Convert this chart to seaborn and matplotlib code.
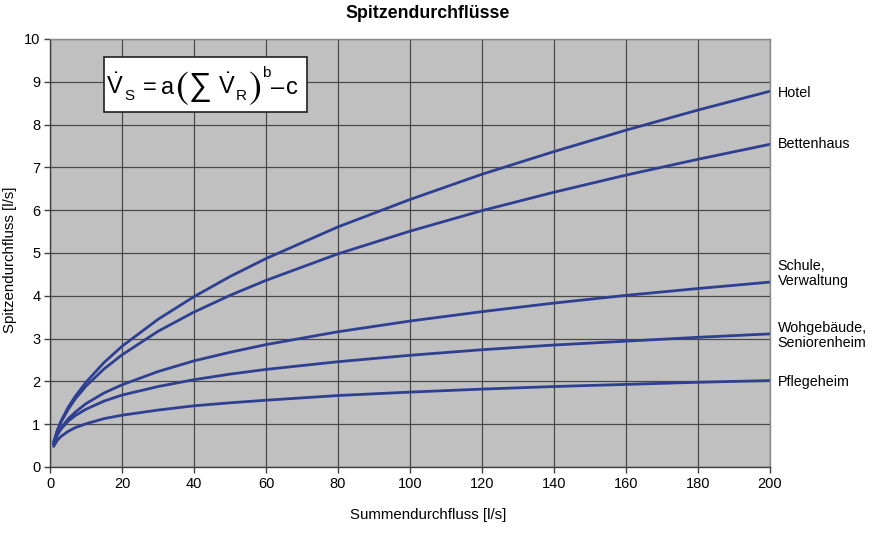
import matplotlib
matplotlib.use("Agg")
import matplotlib.pyplot as plt
import pandas as pd
import seaborn as sns
from matplotlib.patches import Rectangle

# Summendurchfluss [l/s]
flow = [1, 2, 3, 5, 7, 10, 15, 20, 30, 40, 50, 60, 80, 100, 120, 140, 160, 180, 200]

# Spitzendurchfluss [l/s]
hotel = [0.57, 0.85, 1.06, 1.39, 1.65, 1.98, 2.44, 2.82, 3.45, 3.98, 4.45, 4.87,
         5.61, 6.25, 6.84, 7.37, 7.87, 8.34, 8.78]
bettenhaus = [0.57, 0.84, 1.04, 1.34, 1.59, 1.89, 2.29, 2.62, 3.17, 3.62, 4.01, 4.36,
              4.98, 5.51, 5.99, 6.42, 6.82, 7.19, 7.54]
schule = [0.53, 0.75, 0.90, 1.12, 1.28, 1.48, 1.73, 1.92, 2.23, 2.48, 2.68, 2.86,
          3.16, 3.41, 3.63, 3.83, 4.01, 4.17, 4.32]
wohngebaeude = [0.54, 0.75, 0.88, 1.07, 1.20, 1.35, 1.54, 1.68, 1.88, 2.04, 2.17, 2.28,
                2.46, 2.61, 2.74, 2.85, 2.94, 3.03, 3.11]
pflegeheim = [0.48, 0.62, 0.71, 0.83, 0.92, 1.01, 1.13, 1.21, 1.33, 1.43, 1.50, 1.56,
              1.67, 1.75, 1.82, 1.88, 1.93, 1.98, 2.02]

series = {
    "Hotel": hotel,
    "Bettenhaus": bettenhaus,
    "Schule,\nVerwaltung": schule,
    "Wohgebäude,\nSeniorenheim": wohngebaeude,
    "Pflegeheim": pflegeheim,
}
# vertical nudge of the right-hand labels (points)
label_offset = {"Hotel": -1, "Bettenhaus": 0, "Schule,\nVerwaltung": 6,
                "Wohgebäude,\nSeniorenheim": -1, "Pflegeheim": -1}

rows = []
for name, values in series.items():
    for x, y in zip(flow, values):
        rows.append({"flow": x, "peak": y, "kind": name})
df = pd.DataFrame(rows)

sns.set_theme(style="white")
plt.rcParams["font.family"] = ["Liberation Sans", "DejaVu Sans"]
plt.rcParams["mathtext.fontset"] = "custom"
plt.rcParams["mathtext.rm"] = "Liberation Sans"
plt.rcParams["mathtext.it"] = "Liberation Sans"
plt.rcParams["text.color"] = "black"
plt.rcParams["xtick.color"] = "black"
plt.rcParams["ytick.color"] = "black"

W, H = 872, 539
fig = plt.figure(figsize=(W / 100, H / 100), dpi=100)
ax = fig.add_axes([50 / W, 1 - 467 / H, 720 / W, 428 / H])
ax.set_facecolor("#c0c0c0")

line_color = "#2f3f91"
sns.lineplot(data=df, x="flow", y="peak", hue="kind", palette=[line_color] * 5,
             linewidth=2.0, legend=False, ax=ax)

ax.set_xlim(0, 200)
ax.set_ylim(0, 10)
ax.set_xticks(range(0, 201, 20))
ax.set_yticks(range(0, 11))
ax.grid(True, color="#4a4a4a", linewidth=0.9)
ax.set_axisbelow(True)
for side in ["top", "right"]:
    ax.spines[side].set_color("#8a8a8a")
for side in ["left", "bottom"]:
    ax.spines[side].set_color("#404040")
for sp in ax.spines.values():
    sp.set_linewidth(1.0)
ax.tick_params(axis="both", direction="out", length=4, width=1, color="#404040",
               labelsize=10.5, pad=3, bottom=True, left=True)
ax.set_xlabel("")
ax.set_ylabel("")


def px(x, y):
    # pixel position -> figure fraction
    return x / W, 1 - y / H


fig.text(*px(428, 515), "Summendurchfluss [l/s]", ha="center", va="center", fontsize=10.8)
fig.text(*px(10, 260), "Spitzendurchfluss [l/s]", ha="center", va="center",
         fontsize=10.8, rotation=90)
fig.text(*px(428, 14), "Spitzendurchflüsse", ha="center", va="center",
         fontsize=12.8, fontweight="bold")

for name, values in series.items():
    ax.annotate(name, xy=(200, values[-1]), xytext=(5.5, label_offset[name]),
                textcoords="offset points", ha="left", va="center",
                fontsize=10.3, annotation_clip=False, linespacing=1.1)

# formula box
box_x, box_y, box_w, box_h = px(104, 112) + (203 / W, 55 / H)
fig.add_artist(Rectangle((box_x, box_y), box_w, box_h, transform=fig.transFigure,
                         facecolor="white", edgecolor="#202020", linewidth=1.2, zorder=2))

formula_parts = [
    # text, centre x px, y px, size, vertical alignment, math font
    (r"$\dot{V}$", 115, 94, 17, "baseline", "custom"),
    ("S", 129, 100, 11, "baseline", "custom"),
    ("=", 149.5, 94, 17, "baseline", "custom"),
    ("a", 167.5, 94, 17, "baseline", "custom"),
    (r"$($", 181.5, 88.5, 28, "center", "stixsans"),
    (r"$\sum$", 199, 87, 23, "center", "custom"),
    (r"$\dot{V}$", 227, 94, 17, "baseline", "custom"),
    ("R", 241.5, 100, 11, "baseline", "custom"),
    (r"$)$", 255, 88.5, 28, "center", "stixsans"),
    ("b", 266.5, 77, 11, "baseline", "custom"),
    ("–", 278, 94, 17, "baseline", "custom"),
    ("c", 291.5, 94, 17, "baseline", "custom"),
]
for text, x, y, size, va, mfont in formula_parts:
    fig.text(*px(x, y), text, fontsize=size, ha="center", va=va, zorder=3,
             math_fontfamily=mfont)

fig.savefig("out.png", dpi=100)
